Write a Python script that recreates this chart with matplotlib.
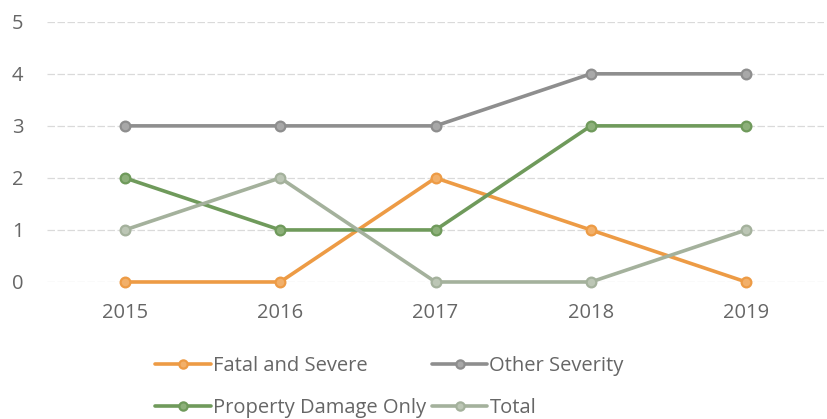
import matplotlib
matplotlib.use("Agg")
import matplotlib.pyplot as plt

years = ["2015", "2016", "2017", "2018", "2019"]
fatal_severe = [0, 0, 2, 1, 0]
other_severity = [3, 3, 3, 4, 4]
property_damage = [2, 1, 1, 3, 3]
total = [1, 2, 0, 0, 1]

plt.rcParams["font.family"] = ["Open Sans", "DejaVu Sans"]

fig = plt.figure(figsize=(8.28, 4.19), dpi=100)
ax = fig.add_axes([0.057, 0.327, 0.938, 0.621])

series = [
    ("Fatal and Severe", fatal_severe, "#ED9B45", "#F2B06A"),
    ("Other Severity", other_severity, "#8E8E8E", "#A8A8A8"),
    ("Property Damage Only", property_damage, "#6F9A5B", "#8DB07A"),
    ("Total", total, "#A4B19C", "#BCC6B5"),
]

x = list(range(len(years)))
lines = {}
for name, vals, col, fill in series:
    (ln,) = ax.plot(x, vals, color=col, lw=2.6, marker="o", ms=7,
                    mfc=fill, mec=col, mew=1.6, label=name, zorder=3,
                    solid_capstyle="round", clip_on=False)
    lines[name] = ln

ax.set_xlim(-0.5, len(years) - 0.5)
ax.set_ylim(0, 5)
ax.set_yticks(range(6))
ax.set_xticks(x)
ax.set_xticklabels(years)
for s in ax.spines.values():
    s.set_visible(False)
ax.grid(axis="y", color="#DADADA", lw=0.9, ls=(0, (6, 2)))
ax.set_axisbelow(True)
ax.tick_params(length=0, labelsize=14.5, colors="#666666")
ax.tick_params(axis="x", pad=15)
ax.tick_params(axis="y", pad=17)

order = ["Fatal and Severe", "Property Damage Only", "Other Severity", "Total"]
fig.legend([lines[n] for n in order], order, ncol=2, loc="upper left",
           bbox_to_anchor=(0.178, 0.17), frameon=False, fontsize=14.5,
           labelcolor="#666666", handlelength=2.75, handletextpad=0.1,
           columnspacing=0.3, labelspacing=1.08, borderaxespad=0,
           markerscale=0.85)

fig.savefig("out.png", dpi=100, facecolor="white")
